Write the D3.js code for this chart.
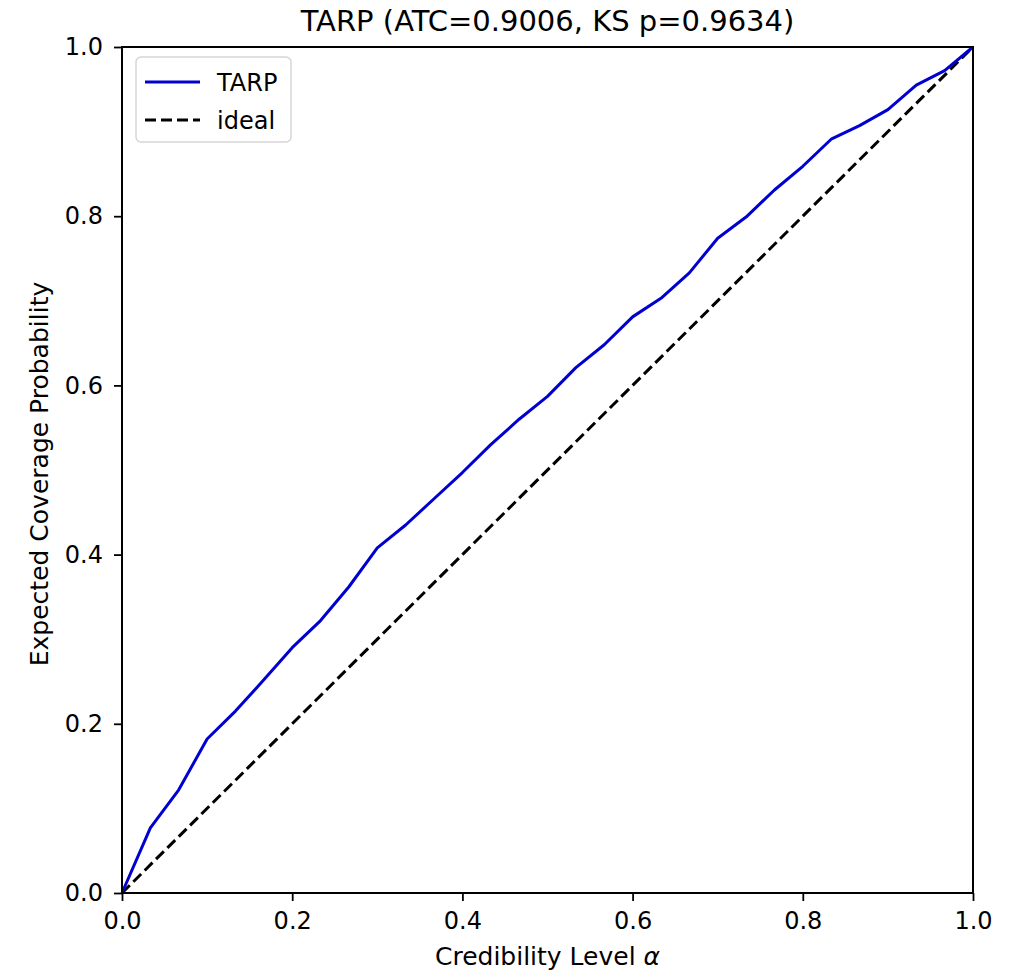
<!DOCTYPE html>
<html>
<head>
<meta charset="utf-8">
<script src="https://cdn.jsdelivr.net/npm/d3@7/dist/d3.min.js"></script>
<style>
  html, body { margin: 0; padding: 0; background: #fff; }
  svg { display: block; }
  text { font-family: "DejaVu Sans", sans-serif; fill: #000; }
</style>
</head>
<body>
<svg id="chart" width="1012" height="972"></svg>
<script>
// ---- data ----
const alphaLevels = [0, 1/30, 2/30, 3/30, 4/30, 5/30, 6/30, 7/30, 8/30, 9/30, 10/30,
  11/30, 12/30, 13/30, 14/30, 15/30, 16/30, 17/30, 18/30, 19/30, 20/30,
  21/30, 22/30, 23/30, 24/30, 25/30, 26/30, 27/30, 28/30, 29/30, 1];
const tarpCoverage = [0.000, 0.077, 0.122, 0.182, 0.215, 0.252, 0.290, 0.322, 0.362, 0.408, 0.435,
  0.466, 0.497, 0.530, 0.560, 0.587, 0.621, 0.648, 0.681, 0.703, 0.733,
  0.774, 0.799, 0.831, 0.859, 0.891, 0.907, 0.926, 0.955, 0.972, 1.000];
const idealX = [0, 1];
const idealY = [0, 1];
const xTicks = [0, 0.2, 0.4, 0.6, 0.8, 1.0];
const yTicks = [0, 0.2, 0.4, 0.6, 0.8, 1.0];
const titleText = "TARP (ATC=0.9006, KS p=0.9634)";
const xLabel = "Credibility Level ";
const yLabel = "Expected Coverage Probability";
const legendLabels = ["TARP", "ideal"];

// ---- layout ----
const svg = d3.select("#chart");
const L = 122, R = 973, T = 47, B = 893;
const x = d3.scaleLinear().domain([0, 1]).range([L, R]);
const y = d3.scaleLinear().domain([0, 1]).range([B, T]);

const g = svg.append("g");
const line = d3.line().x(d => x(d[0])).y(d => y(d[1]));

g.append("path")
  .datum(idealX.map((v, i) => [v, idealY[i]]))
  .attr("d", line)
  .attr("fill", "none").attr("stroke", "#000").attr("stroke-width", 3)
  .attr("stroke-dasharray", "11,5");

g.append("path")
  .datum(alphaLevels.map((v, i) => [v, tarpCoverage[i]]))
  .attr("d", line)
  .attr("fill", "none").attr("stroke", "#0000d0").attr("stroke-width", 3)
  .attr("stroke-linejoin", "round");

// axes
const fmt = d3.format(".1f");
const xAxis = svg.append("g").attr("transform", `translate(0,${B})`)
  .call(d3.axisBottom(x).tickValues(xTicks).tickFormat(fmt).tickSize(8).tickPadding(11));
const yAxis = svg.append("g").attr("transform", `translate(${L},0)`)
  .call(d3.axisLeft(y).tickValues(yTicks).tickFormat(fmt).tickSize(8).tickPadding(11));
[xAxis, yAxis].forEach(a => {
  a.select(".domain").remove();
  a.selectAll(".tick line").attr("stroke", "#000").attr("stroke-width", 1.8);
  a.selectAll(".tick text").style("font-size", "24px").style("font-family", "DejaVu Sans").attr("fill", "#000");
});

// frame
svg.append("rect").attr("x", L).attr("y", T).attr("width", R - L).attr("height", B - T)
  .attr("fill", "none").attr("stroke", "#000").attr("stroke-width", 2);

// title
svg.append("text").attr("x", (L + R) / 2).attr("y", 31).attr("text-anchor", "middle")
  .style("font-size", "29px").text(titleText);

// x label
const xl = svg.append("text").attr("x", (L + R) / 2).attr("y", 965).attr("text-anchor", "middle")
  .style("font-size", "25px");
xl.append("tspan").text(xLabel);
xl.append("tspan").style("font-style", "italic").text("α");

// y label
svg.append("text").attr("transform", `translate(48,${(T + B) / 2 + 4}) rotate(-90)`)
  .attr("text-anchor", "middle").style("font-size", "25px").text(yLabel);

// legend
const lg = svg.append("g");
lg.append("rect").attr("x", 136).attr("y", 57).attr("width", 155).attr("height", 85)
  .attr("rx", 5).attr("fill", "#fff").attr("fill-opacity", 0.8)
  .attr("stroke", "#d6d6d6").attr("stroke-width", 1.5);
const legendStyles = [{ color: "#0000d0", dash: null }, { color: "#000", dash: "11,5" }];
legendLabels.forEach((lab, i) => {
  const yy = 82 + i * 38;
  const p = lg.append("line").attr("x1", 145).attr("x2", 200).attr("y1", yy).attr("y2", yy)
    .attr("stroke", legendStyles[i].color).attr("stroke-width", 3);
  if (legendStyles[i].dash) p.attr("stroke-dasharray", legendStyles[i].dash);
  lg.append("text").attr("x", 217).attr("y", yy + 9).style("font-size", "24px").text(lab);
});
</script>
</body>
</html>
